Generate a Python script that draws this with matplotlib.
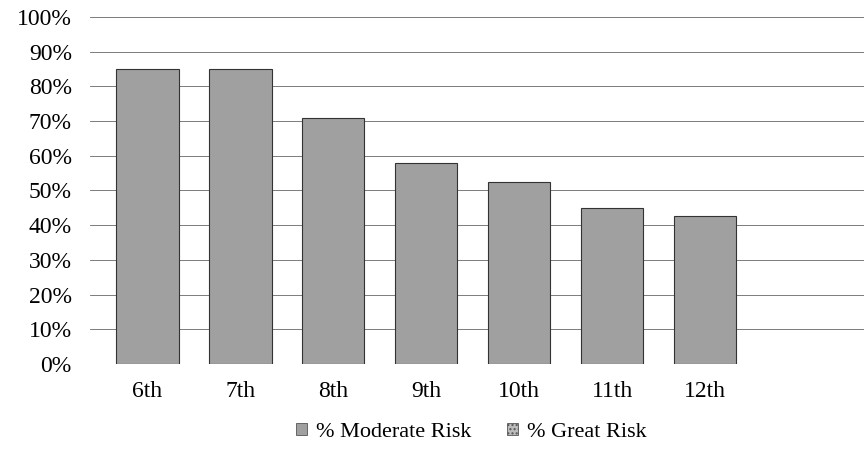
import numpy as np
import matplotlib
matplotlib.use('Agg')
import matplotlib.pyplot as plt
from matplotlib.patches import Patch

grades = ["6th", "7th", "8th", "9th", "10th", "11th", "12th"]
moderate_risk = [85, 85, 71, 58, 52.5, 45, 42.5]
y_ticks = [0, 10, 20, 30, 40, 50, 60, 70, 80, 90, 100]
y_labels = [str(t) + "%" for t in y_ticks]

plt.rcParams['font.family'] = ['Liberation Serif', 'DejaVu Serif']

fig = plt.figure(figsize=(8.64, 4.55), dpi=100)
ax = fig.add_axes([0.104, 0.2, 0.896, 0.763])

x = np.arange(len(grades))
ax.bar(x, moderate_risk, width=0.67, color='#a0a0a0', edgecolor='#333333',
       linewidth=0.8, zorder=3)

ax.set_ylim(0, 100)
ax.set_xlim(-0.62, 7.71)
ax.set_yticks(y_ticks)
ax.set_yticklabels(y_labels, fontsize=17)
ax.set_xticks(x)
ax.set_xticklabels(grades, fontsize=17)
ax.tick_params(axis='y', length=0, pad=13)
ax.tick_params(axis='x', length=0, pad=12)
ax.grid(axis='y', color='#666666', linewidth=0.6, zorder=0)
for s in ax.spines.values():
    s.set_visible(False)

handles = [Patch(facecolor='#a0a0a0', edgecolor='#555555', linewidth=0.6),
           Patch(facecolor='#bdbdbd', edgecolor='#555555', linewidth=0.6, hatch='....')]
fig.legend(handles, ["% Moderate Risk", "% Great Risk"], loc='center',
           bbox_to_anchor=(0.545, 0.05), ncol=2, frameon=False, fontsize=16,
           handlelength=0.5, handleheight=0.5, handletextpad=0.4, columnspacing=1.6)

fig.savefig("out.png", dpi=100)
